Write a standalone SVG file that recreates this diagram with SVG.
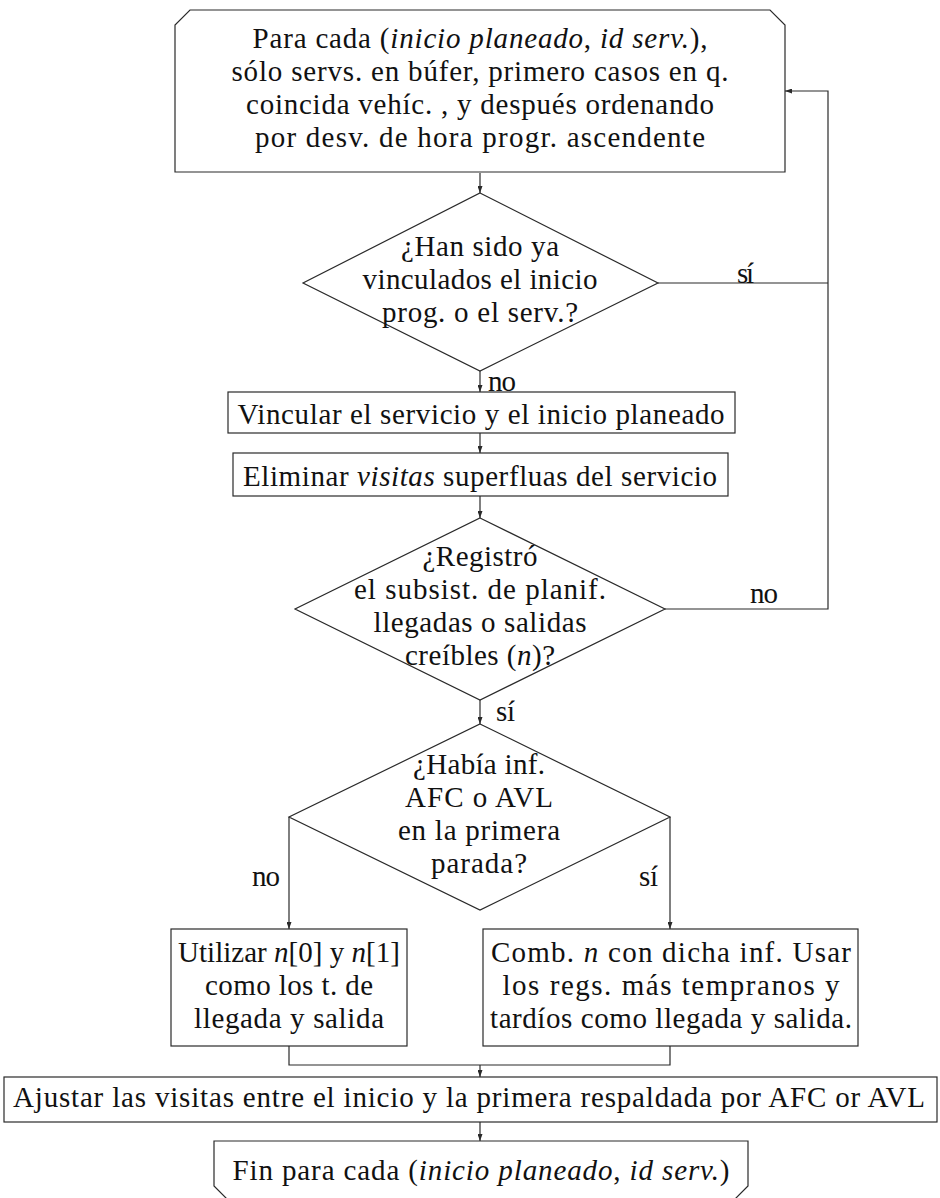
<svg xmlns="http://www.w3.org/2000/svg" width="940" height="1198" viewBox="0 0 940 1198">
  <style>
    .shape { fill: #ffffff; stroke: #2a2a2a; stroke-width: 1.2; }
    .wire { fill: none; stroke: #2a2a2a; stroke-width: 1.2; }
    text { font-family: "Liberation Serif", "Times New Roman", serif; font-size: 29px; fill: #111111; }
    .c { text-anchor: middle; }
    .it { font-style: italic; }
  </style>
  <defs>
    <marker id="arr" viewBox="0 0 7 5" refX="7" refY="2.5" markerWidth="7" markerHeight="5" markerUnits="userSpaceOnUse" orient="auto">
      <path d="M0,0 L7,2.5 L0,5 z" fill="#2a2a2a"/>
    </marker>
  </defs>
  <rect width="940" height="1198" fill="#ffffff"/>

  <!-- connectors -->
  <g id="connectors">
    <path class="wire" d="M480,173 V193" marker-end="url(#arr)"/>
    <path class="wire" d="M480,371 V392" marker-end="url(#arr)"/>
    <path class="wire" d="M480,433 V453" marker-end="url(#arr)"/>
    <path class="wire" d="M480,496 V518" marker-end="url(#arr)"/>
    <path class="wire" d="M480,700 V724" marker-end="url(#arr)"/>
    <path class="wire" d="M658,283 H828"/>
    <path class="wire" d="M665,609 H828 V91 H785" marker-end="url(#arr)"/>
    <path class="wire" d="M289,817 V929" marker-end="url(#arr)"/>
    <path class="wire" d="M670,817 V929" marker-end="url(#arr)"/>
    <path class="wire" d="M289,1046 V1065 H670 V1046"/>
    <path class="wire" d="M480,1065 V1077" marker-end="url(#arr)"/>
    <path class="wire" d="M480,1122 V1141" marker-end="url(#arr)"/>
    <text x="737" y="283" textLength="17">sí</text>
    <text x="488" y="391" textLength="28">no</text>
    <text x="750" y="603" textLength="28">no</text>
    <text x="496" y="721" textLength="19">sí</text>
    <text x="252" y="886" textLength="28">no</text>
    <text x="639" y="886" textLength="19">sí</text>
  </g>

  <!-- loop start -->
  <g id="start">
    <path class="shape" d="M190,10 H770 L785,25 V172 H175 V25 Z"/>
    <text class="c" x="480" y="48" textLength="455">Para cada (<tspan class="it">inicio planeado</tspan>, <tspan class="it">id serv.</tspan>),</text>
    <text class="c" x="480" y="81" textLength="497">sólo servs.  en búfer, primero casos en q.</text>
    <text class="c" x="480" y="114" textLength="468">coincida vehíc.  , y después ordenando</text>
    <text class="c" x="480" y="147" textLength="450">por desv.  de hora progr.  ascendente</text>
  </g>

  <g id="check-linked">
    <path class="shape" d="M480,193 L658,283 L480,371 L303,283 Z"/>
    <text class="c" x="480" y="256" textLength="158">¿Han sido ya</text>
    <text class="c" x="480" y="289" textLength="235">vinculados el inicio</text>
    <text class="c" x="480" y="322" textLength="196">prog.  o el serv.?</text>
  </g>

  <g id="link">
    <rect class="shape" x="228" y="392" width="507" height="41"/>
    <text class="c" x="481" y="424" textLength="487">Vincular el servicio y el inicio planeado</text>
  </g>

  <g id="remove-visits">
    <rect class="shape" x="233" y="453" width="495" height="43"/>
    <text class="c" x="480" y="486" textLength="474">Eliminar <tspan class="it">visitas</tspan> superfluas del servicio</text>
  </g>

  <g id="check-records">
    <path class="shape" d="M480,518 L665,609 L480,700 L295,609 Z"/>
    <text class="c" x="480" y="566" textLength="115">¿Registró</text>
    <text class="c" x="480" y="599" textLength="252">el subsist.  de planif.</text>
    <text class="c" x="480" y="632" textLength="213">llegadas o salidas</text>
    <text class="c" x="480" y="665" textLength="150">creíbles (<tspan class="it">n</tspan>)?</text>
  </g>

  <g id="check-afc-avl">
    <path class="shape" d="M480,724 L670,817 L480,910 L289,817 Z"/>
    <text class="c" x="479" y="774" textLength="132">¿Había inf.</text>
    <text class="c" x="479" y="807" textLength="148">AFC o AVL</text>
    <text class="c" x="479" y="840" textLength="162">en la primera</text>
    <text class="c" x="479" y="873" textLength="96">parada?</text>
  </g>

  <g id="use-n">
    <rect class="shape" x="171" y="929" width="236" height="117"/>
    <text class="c" x="289" y="962" textLength="222">Utilizar <tspan class="it">n</tspan>[0] y <tspan class="it">n</tspan>[1]</text>
    <text class="c" x="289" y="995" textLength="168">como los t.  de</text>
    <text class="c" x="289" y="1028" textLength="190">llegada y salida</text>
  </g>

  <g id="combine">
    <rect class="shape" x="483" y="929" width="375" height="117"/>
    <text class="c" x="671" y="962" textLength="360">Comb.  <tspan class="it">n</tspan> con dicha inf.  Usar</text>
    <text class="c" x="671" y="995" textLength="337">los regs.  más tempranos y</text>
    <text class="c" x="671" y="1028" textLength="362">tardíos como llegada y salida.</text>
  </g>

  <g id="adjust">
    <rect class="shape" x="4" y="1077" width="933" height="45"/>
    <text class="c" x="469" y="1107" textLength="912">Ajustar las visitas entre el inicio y la primera respaldada por AFC or AVL</text>
  </g>

  <!-- loop end -->
  <g id="end">
    <path class="shape" d="M214,1141 H748 V1186 L734,1200 H228 L214,1186 Z"/>
    <text class="c" x="481" y="1180" textLength="497">Fin para cada (<tspan class="it">inicio planeado</tspan>, <tspan class="it">id serv.</tspan>)</text>
  </g>
</svg>
